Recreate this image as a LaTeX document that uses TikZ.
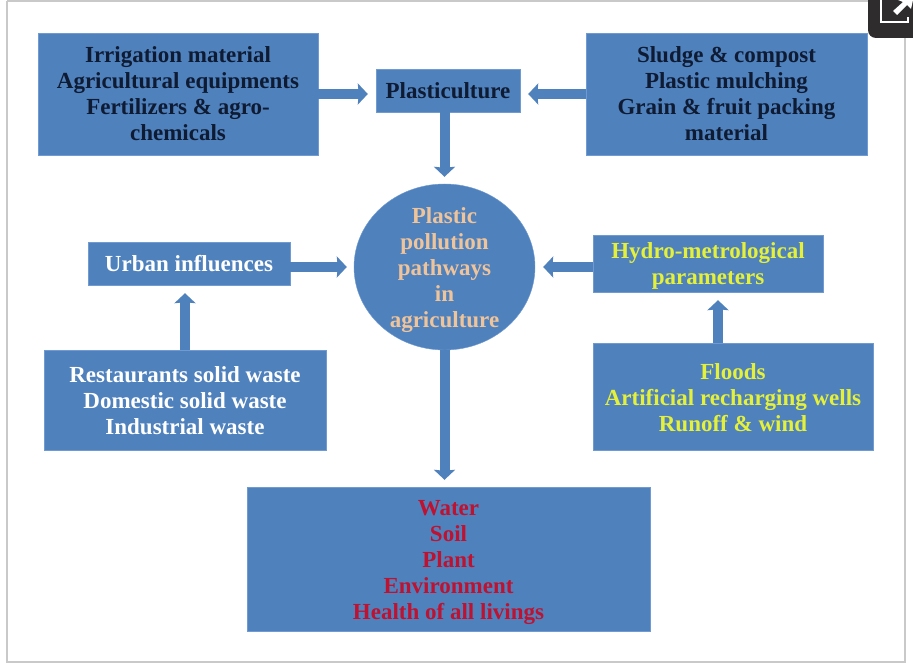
\documentclass[tikz,border=0pt]{standalone}
\usepackage{fontspec}
\setmainfont{Liberation Serif}
\usetikzlibrary{arrows.meta,shapes.geometric}
\definecolor{boxblue}{HTML}{4F81BD}
\definecolor{boxedge}{HTML}{6F9BD2}
\definecolor{inkdark}{HTML}{0E1B33}
\definecolor{peach}{HTML}{EFC49A}
\definecolor{hydroyellow}{HTML}{E4F03A}
\definecolor{deepred}{HTML}{BE1230}
\definecolor{framegray}{HTML}{C9C9C9}
\definecolor{icondark}{HTML}{2E2C2C}
\newcommand{\lowertext}[1]{\rule{0pt}{#1pt}}
\tikzset{
  x=1pt,y=-1pt,
  boxnode/.style={rectangle,fill=boxblue,draw=boxedge,line width=.4pt,inner sep=0pt,align=center,
    font=\fontsize{23}{26}\selectfont\bfseries},
  blockarrow/.style={draw=boxblue,line width=10pt,
    -{Stealth[length=10pt,width=21pt,inset=1pt]}},
}
\begin{document}
\begin{tikzpicture}
\useasboundingbox (0,0) rectangle (913,663);
\fill[white] (0,0) rectangle (913,663);
\draw[framegray,line width=2pt] (7,1) -- (7,662) -- (905,662) -- (905,30);
\draw[framegray,line width=2pt] (7,1) -- (880,1);
% icon
\fill[icondark] (868,-8) -- (868,30) arc[start angle=180,end angle=90,radius=8] -- (921,38) -- (921,-8) -- cycle;
\draw[white,line width=2.5pt] (881,-2) -- (881,22) -- (908,22) -- (908,17);
\fill[white] (893,11) -- (903,2) -- (898,0) -- (913,0) -- (911,9) -- (907,5) -- (897,15) -- cycle;

\node[boxnode,text=inkdark,minimum width=280pt,minimum height=122pt] (inputs) at (178,94)
  {Irrigation material\\Agricultural equipments\\Fertilizers \& agro-\\chemicals};
\node[boxnode,text=inkdark,minimum width=144pt,minimum height=43pt] (plast) at (448,90.5) {\lowertext{16.5}Plasticulture};
\node[boxnode,text=inkdark,minimum width=281pt,minimum height=122pt] (sludge) at (726.5,94)
  {Sludge \& compost\\Plastic mulching\\Grain \& fruit packing\\material};
\node[ellipse,fill=boxblue,draw=boxedge,line width=.4pt,inner sep=0pt,minimum width=181pt,minimum height=166pt,
  label={[align=center,text=peach,font=\fontsize{23}{26}\selectfont\bfseries,inner sep=0pt]center:\lowertext{23}Plastic\\pollution\\pathways\\in\\agriculture}] (hub) at (444.5,267) {};
\node[boxnode,text=white,minimum width=202pt,minimum height=43pt] (urban) at (189,263.5) {Urban influences};
\node[boxnode,text=hydroyellow,minimum width=230pt,minimum height=57pt] (hydro) at (708,263.5)
  {\lowertext{21.5}Hydro-metrological\\parameters};
\node[boxnode,text=white,minimum width=282pt,minimum height=100pt] (waste) at (185,400)
  {\lowertext{17.5}Restaurants solid waste\\Domestic solid waste\\Industrial waste};
\node[boxnode,text=hydroyellow,minimum width=280pt,minimum height=107pt] (floods) at (733,396.5)
  {\lowertext{18}Floods\\Artificial recharging wells\\Runoff \& wind};
\node[boxnode,text=deepred,minimum width=403pt,minimum height=144pt] (effects) at (448.5,559)
  {\lowertext{21.5}Water\\Soil\\Plant\\Environment\\Health of all livings};

\draw[blockarrow,shorten >=8pt] (inputs.east) -- (inputs.east -| plast.west);
\draw[blockarrow,shorten >=8pt] (sludge.west) -- (sludge.west -| plast.east);
\draw[blockarrow,shorten >=7pt] (hub.north |- plast.south) -- (hub.north);
\draw[blockarrow,shorten >=7pt] (urban.east |- hub.west) -- (hub.west);
\draw[blockarrow,shorten >=8pt] (hydro.west |- hub.east) -- (hub.east);
\draw[blockarrow,shorten >=8pt] (waste.north) -- (waste.north |- urban.south);
\draw[blockarrow,shorten >=8pt] ([xshift=-15pt]floods.north) -- ([xshift=-15pt]floods.north |- hydro.south);
\draw[blockarrow,shorten >=7pt] (hub.south) -- (hub.south |- effects.north);
\end{tikzpicture}
\end{document}
